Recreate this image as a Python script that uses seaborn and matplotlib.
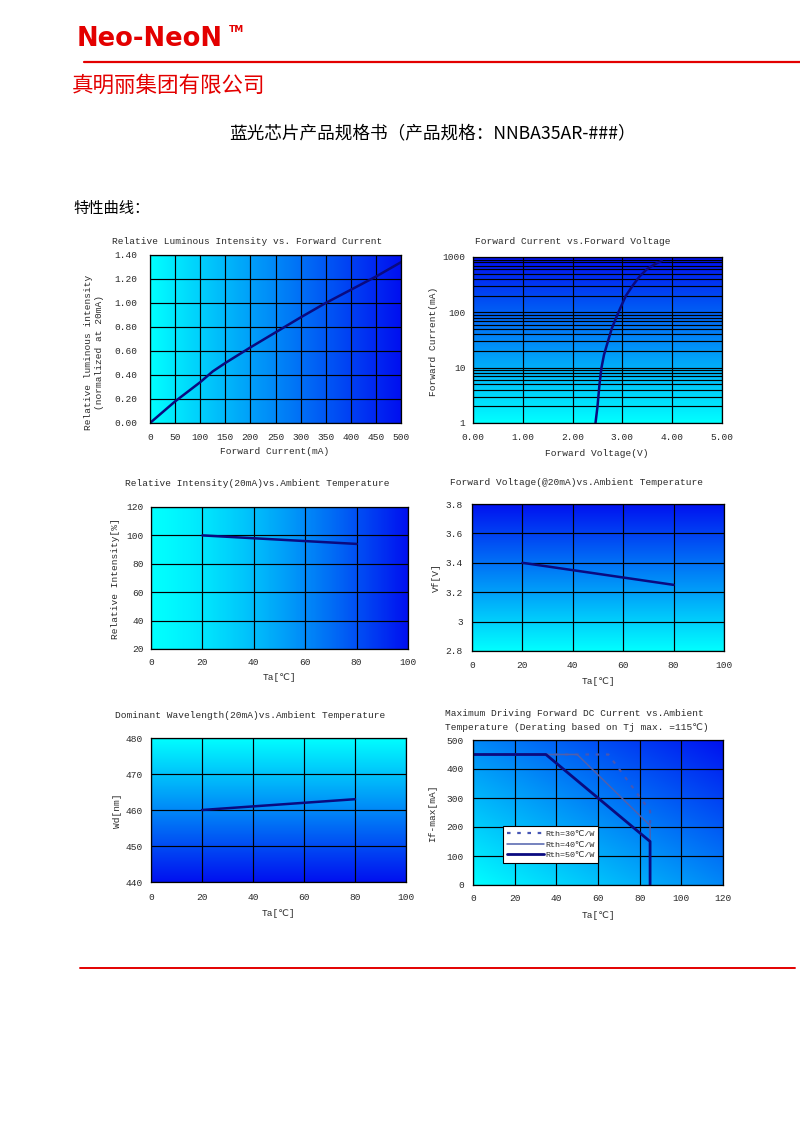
import numpy as np
import pandas as pd
import matplotlib
matplotlib.use("Agg")
import matplotlib.pyplot as plt
import seaborn as sns
from matplotlib.colors import LinearSegmentedColormap
from matplotlib.lines import Line2D
from matplotlib.ticker import LogLocator, NullFormatter, FixedLocator

# ---------------- data ----------------
lum_current = [0, 50, 100, 125, 150, 200, 250, 300, 350, 400, 450, 500]
lum_rel = [0.0, 0.18, 0.34, 0.43, 0.50, 0.63, 0.755, 0.88, 1.00, 1.11, 1.22, 1.34]
lum_xticks = [0, 50, 100, 150, 200, 250, 300, 350, 400, 450, 500]
lum_yticks = [0.0, 0.2, 0.4, 0.6, 0.8, 1.0, 1.2, 1.4]

fv_voltage = [2.46, 2.50, 2.54, 2.58, 2.63, 2.70, 2.79, 2.92, 3.07, 3.22, 3.35, 3.49, 3.65, 3.79]
fv_current = [1, 2, 5, 10, 17, 28, 52, 100, 200, 316, 450, 600, 740, 850]
fv_xticks = [0, 1, 2, 3, 4, 5]
fv_yticks = [1, 10, 100, 1000]

ta = [20, 40, 60, 80]
rel_intensity = [100, 98, 96, 94]
ri_yticks = [20, 40, 60, 80, 100, 120]

vf_temp = [3.40, 3.35, 3.30, 3.25]
vf_yticks = [2.8, 3.0, 3.2, 3.4, 3.6, 3.8]
vf_ylabels = ["2.8", "3", "3.2", "3.4", "3.6", "3.8"]

wd_temp = [460, 461, 462, 463]
wd_yticks = [440, 450, 460, 470, 480]

temp_xticks = [0, 20, 40, 60, 80, 100]
derate_xticks = [0, 20, 40, 60, 80, 100, 120]
derate_yticks = [0, 100, 200, 300, 400, 500]

rth30_ta = [0, 65, 85, 85]
rth30_if = [450, 450, 255, 200]
rth40_ta = [0, 50, 85, 85]
rth40_if = [450, 450, 205, 0]
rth50_ta = [0, 35, 85, 85]
rth50_if = [450, 450, 150, 0]
rth_labels = ["Rth=30℃/W", "Rth=40℃/W", "Rth=50℃/W"]

# ---------------- style ----------------
sns.set_theme(style="white")
plt.rcParams["font.family"] = ["Liberation Mono", "DejaVu Sans", "Noto Sans CJK SC"]
plt.rcParams["axes.unicode_minus"] = False

W, H = 800, 1133
fig = plt.figure(figsize=(8, 11.33), dpi=100)
fig.patch.set_facecolor("white")

FS = 6.8
TXT = "#2a2a2a"
LINE = "#0a0a80"
CYAN = "#00ffff"
BLUE = "#0010f0"


def fx(x):
    return x / W


def fy(y):
    return 1 - y / H


def make_ax(l, r, t, b):
    return fig.add_axes([fx(l), fy(b), (r - l) / W, (b - t) / H])


def gradient(ax, kind, power=1.0):
    n = 256
    t = np.linspace(0, 1, n)
    X, Y = np.meshgrid(t, t)
    if kind == "h":
        arr = X
    elif kind == "v_up":
        arr = Y
    elif kind == "v_down":
        arr = 1 - Y
    else:
        arr = (X + Y) / 2
    arr = arr ** power
    cmap = LinearSegmentedColormap.from_list("g", [CYAN, BLUE])
    ax.imshow(arr, cmap=cmap, extent=[0, 1, 0, 1], transform=ax.transAxes,
              origin="lower", aspect="auto", interpolation="bilinear",
              zorder=0, vmin=0, vmax=1)


def style_ax(ax, xpad, ypad):
    ax.grid(True, which="both", color="black", linewidth=0.85)
    ax.tick_params(length=0, labelsize=FS, labelcolor=TXT)
    ax.tick_params(axis="x", pad=xpad)
    ax.tick_params(axis="y", pad=ypad)
    for s in ax.spines.values():
        s.set_visible(True)
        s.set_color("black")
        s.set_linewidth(0.9)
    ax.set_xlabel("")
    ax.set_ylabel("")


def ftext(x, y, s, **kw):
    kw.setdefault("fontsize", FS)
    kw.setdefault("color", TXT)
    kw.setdefault("ha", "center")
    kw.setdefault("va", "center")
    fig.text(fx(x), fy(y), s, **kw)


# ---------------- header ----------------
fig.text(fx(77), fy(39), "Neo-NeoN", color="#e30000", fontsize=18.5,
         fontweight="bold", family="DejaVu Sans", ha="left", va="center")
fig.text(fx(229), fy(30), "TM", color="#e30000", fontsize=6.5,
         fontweight="bold", family="DejaVu Sans", ha="left", va="center")
fig.add_artist(Line2D([fx(84), fx(800)], [fy(62), fy(62)], color="#e30000", linewidth=1.6))
fig.text(fx(72), fy(86), "真明丽集团有限公司", color="#e30000", fontsize=15.5,
         family=["Noto Sans CJK SC"], ha="left", va="center")
fig.text(fx(432), fy(133), "蓝光芯片产品规格书（产品规格：NNBA35AR-###）", color="black",
         fontsize=12.7, family=["Noto Sans CJK SC", "DejaVu Sans"], ha="center", va="center")
fig.text(fx(73), fy(208), "特性曲线：", color="black", fontsize=11,
         family=["Noto Sans CJK SC"], ha="left", va="center")
fig.add_artist(Line2D([fx(80), fx(795)], [fy(968), fy(968)], color="#e30000", linewidth=1.4))

# ---------------- chart 1 ----------------
ax1 = make_ax(150, 401, 255, 423)
ax1.set_xlim(0, 500)
ax1.set_ylim(0, 1.4)
gradient(ax1, "h")
sns.lineplot(x=lum_current, y=lum_rel, ax=ax1, color=LINE, linewidth=1.8,
             sort=False, estimator=None)
ax1.set_xticks(lum_xticks, [str(v) for v in lum_xticks])
ax1.set_yticks(lum_yticks, [f"{v:.2f}" for v in lum_yticks])
style_ax(ax1, 7.5, 9)
ftext(247, 241, "Relative Luminous Intensity vs. Forward Current")
ftext(275, 452, "Forward Current(mA)")
ftext(94, 352, "Relative luminous intensity\n(normalized at 20mA)", rotation=90,
      linespacing=1.25)

# ---------------- chart 2 ----------------
ax2 = make_ax(473, 722, 257, 423)
ax2.set_yscale("log")
ax2.set_xlim(0, 5)
ax2.set_ylim(1, 1000)
gradient(ax2, "v_up")
sns.lineplot(x=fv_voltage, y=fv_current, ax=ax2, color=LINE, linewidth=1.8,
             sort=False, estimator=None)
ax2.set_xticks(fv_xticks, [f"{v:.2f}" for v in fv_xticks])
ax2.yaxis.set_major_locator(FixedLocator(fv_yticks))
ax2.set_yticklabels([str(v) for v in fv_yticks])
ax2.yaxis.set_minor_locator(LogLocator(base=10, subs=np.arange(2, 10)))
ax2.yaxis.set_minor_formatter(NullFormatter())
style_ax(ax2, 7, 5.5)
ax2.tick_params(which="minor", length=0)
ftext(573, 242, "Forward Current vs.Forward Voltage")
ftext(597, 453, "Forward Voltage(V)")
ftext(433, 341, "Forward Current(mA)", rotation=90)

# ---------------- chart 3 ----------------
ax3 = make_ax(151, 408, 507, 649)
ax3.set_xlim(0, 100)
ax3.set_ylim(20, 120)
gradient(ax3, "h", power=1.4)
sns.lineplot(x=ta, y=rel_intensity, ax=ax3, color=LINE, linewidth=1.8,
             sort=False, estimator=None)
ax3.set_xticks(temp_xticks, [str(v) for v in temp_xticks])
ax3.set_yticks(ri_yticks, [str(v) for v in ri_yticks])
style_ax(ax3, 6.5, 5)
ftext(257, 484, "Relative Intensity(20mA)vs.Ambient Temperature")
ftext(279, 677, "Ta[℃]")
ftext(116, 579, "Relative Intensity[%]", rotation=90)

# ---------------- chart 4 ----------------
ax4 = make_ax(472, 724, 504, 651)
ax4.set_xlim(0, 100)
ax4.set_ylim(2.8, 3.8)
gradient(ax4, "v_up")
sns.lineplot(x=ta, y=vf_temp, ax=ax4, color=LINE, linewidth=1.8,
             sort=False, estimator=None)
ax4.set_xticks(temp_xticks, [str(v) for v in temp_xticks])
ax4.set_yticks(vf_yticks, vf_ylabels)
style_ax(ax4, 7, 6.5)
ftext(577, 482, "Forward Voltage(@20mA)vs.Ambient Temperature")
ftext(598, 681, "Ta[℃]")
ftext(436, 578, "Vf[V]", rotation=90)

# ---------------- chart 5 ----------------
ax5 = make_ax(151, 406, 738, 882)
ax5.set_xlim(0, 100)
ax5.set_ylim(440, 480)
gradient(ax5, "v_down")
sns.lineplot(x=ta, y=wd_temp, ax=ax5, color=LINE, linewidth=1.8,
             sort=False, estimator=None)
ax5.set_xticks(temp_xticks, [str(v) for v in temp_xticks])
ax5.set_yticks(wd_yticks, [str(v) for v in wd_yticks])
style_ax(ax5, 8, 5.8)
ftext(250, 716, "Dominant Wavelength(20mA)vs.Ambient Temperature")
ftext(278, 913, "Ta[℃]")
ftext(117, 811, "Wd[nm]", rotation=90)

# ---------------- chart 6 ----------------
ax6 = make_ax(473, 723, 740, 885)
ax6.set_xlim(0, 120)
ax6.set_ylim(0, 500)
gradient(ax6, "diag")
sns.lineplot(x=rth30_ta, y=rth30_if, ax=ax6, color="#4656b4", linewidth=1.6,
             linestyle=(0, (1.6, 3)), sort=False, estimator=None,
             label=rth_labels[0])
sns.lineplot(x=rth40_ta, y=rth40_if, ax=ax6, color="#5060ac", linewidth=1.1,
             sort=False, estimator=None, label=rth_labels[1])
sns.lineplot(x=rth50_ta, y=rth50_if, ax=ax6, color=LINE, linewidth=2.0,
             sort=False, estimator=None, label=rth_labels[2])
ax6.set_xticks(derate_xticks, [str(v) for v in derate_xticks])
ax6.set_yticks(derate_yticks, [str(v) for v in derate_yticks])
style_ax(ax6, 6.5, 6.5)
leg = ax6.legend(loc="upper left", bbox_to_anchor=(0.12, 0.405), frameon=True,
                 fancybox=False, edgecolor="black", framealpha=1, fontsize=6,
                 handlelength=4.5, handletextpad=0.1, borderpad=0.45,
                 labelspacing=0.35, borderaxespad=0)
leg.get_frame().set_linewidth(0.8)
for t in leg.get_texts():
    t.set_color(TXT)
ftext(445, 713, "Maximum Driving Forward DC Current vs.Ambient", ha="left")
ftext(445, 728, "Temperature (Derating based on Tj max. =115℃)", ha="left")
ftext(598, 915, "Ta[℃]")
ftext(433, 813, "If-max[mA]", rotation=90)

fig.savefig("out.png", dpi=100, facecolor="white")
